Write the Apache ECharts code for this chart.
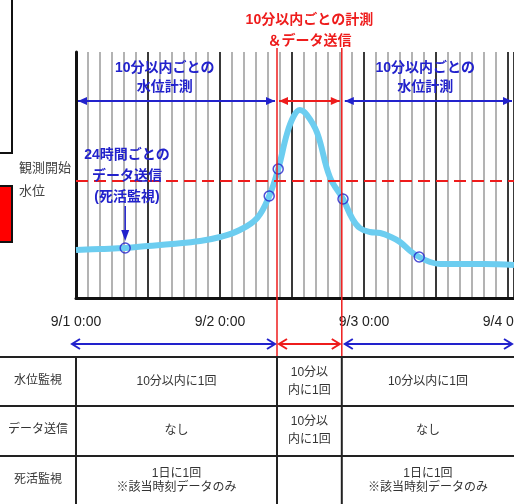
<!DOCTYPE html>
<html><head><meta charset="utf-8">
<script src="https://cdn.jsdelivr.net/npm/echarts@6/dist/echarts.min.js"></script>
<style>html,body{margin:0;padding:0;background:#fff}#c{width:514px;height:504px}</style>
</head><body><div id="c"></div>
<script>
// ---- data (hours since 9/1 0:00, relative water level) ----
const hours  = [0, 4, 8.2, 12, 16, 20.7, 24, 27.3, 30.2, 32.2, 33.7, 35.2, 36.3, 37.3, 38.5, 40.2, 42.3, 44.5, 46, 47.3, 49, 50.7, 52.5, 54, 55.7, 57.2, 59, 60.7, 64, 68, 73];
const levels = [48, 49, 50, 52, 54, 57, 61, 68, 80, 102, 129, 165, 182, 188, 183, 165, 121, 99, 80, 70, 66, 65, 61, 56, 47, 41, 36, 34, 34, 34, 33];
const sampleHours  = [8.2, 32.2, 33.7, 44.5, 57.2];
const sampleLevels = [50, 102, 129, 99, 41];
const startLevel = 117;                 // 観測開始水位
const phaseBounds = [0, 33.5, 44.3, 73]; // phase boundaries (hours)
const dayTicks  = [0, 24, 48, 72];
const dayLabels = ['9/1 0:00', '9/2 0:00', '9/3 0:00', '9/4 0:00'];
const phaseTitles = ['10分以内ごとの\n水位計測', '10分以内ごとの計測\n＆データ送信', '10分以内ごとの\n水位計測'];
const phaseTitleHours = [14.8, null, 58.2];
const heartbeatNote = '24時間ごとの\nデータ送信\n(死活監視)';
const axisNote = '観測開始\n水位';
const rowLabels = ['水位監視', 'データ送信', '死活監視'];
const cellTexts = [
  ['10分以内に1回', '10分以\n内に1回', '10分以内に1回'],
  ['なし', '10分以\n内に1回', 'なし'],
  ['1日に1回\n※該当時刻データのみ', '', '1日に1回\n※該当時刻データのみ']
];

const FONT = "'Liberation Sans','Noto Sans CJK JP',sans-serif";
const BLUE = '#2222cc', RED = '#ee1c1c', CURVE = '#6ccdf0';

const chart = echarts.init(document.getElementById('c'), null, {renderer: 'canvas'});
chart.setOption({
  animation: false,
  grid: {left: 76, top: 52, right: 0, bottom: 206, containLabel: false, outerBoundsMode: 'none'},
  xAxis: [
    {type: 'value', min: 0, max: 73, interval: 2, position: 'bottom',
     axisLine: {show: true, onZero: false, lineStyle: {color: '#111', width: 3}},
     axisTick: {show: false},
     splitLine: {show: true, lineStyle: {color: '#9a9a9a', width: 1.5}},
     axisLabel: {margin: 17, fontSize: 14, color: '#222', fontFamily: FONT, hideOverlap: false,
       formatter: v => { const i = dayTicks.indexOf(v); return i >= 0 ? dayLabels[i] : ''; }}},
    {type: 'value', min: 0, max: 73, interval: 12, position: 'top',
     axisLine: {show: false}, axisTick: {show: false}, axisLabel: {show: false},
     splitLine: {show: true, lineStyle: {color: '#111', width: 1.5}}}
  ],
  yAxis: {type: 'value', min: 0, max: 246,
    axisLine: {show: true, onZero: false, lineStyle: {color: '#111', width: 3}},
    axisTick: {show: false}, axisLabel: {show: false}, splitLine: {show: false}},
  series: [
    {type: 'line', data: hours.map((h, i) => [h, levels[i]]), smooth: 0.4, symbol: 'none',
     lineStyle: {color: CURVE, width: 6}, z: 3,
     markLine: {silent: true, symbol: 'none', label: {show: false},
       data: [{yAxis: startLevel, lineStyle: {color: RED, width: 2, type: [12, 6]}}]}},
    {type: 'scatter', data: sampleHours.map((h, i) => [h, sampleLevels[i]]), symbol: 'circle', symbolSize: 10,
     itemStyle: {color: 'rgba(255,255,255,0)', borderColor: BLUE, borderWidth: 1.5}, z: 5}
  ]
});

const px = h => chart.convertToPixel({xAxisIndex: 0}, h);
const py = v => chart.convertToPixel({yAxisIndex: 0}, v);
const g = [];
function hArrow(x0, x1, y, color, filled) {
  g.push({type: 'line', shape: {x1: x0, y1: y, x2: x1, y2: y}, style: {stroke: color, lineWidth: 2}, z: 20});
  if (filled) {
    g.push({type: 'polygon', shape: {points: [[x0, y], [x0 + 9, y - 4], [x0 + 9, y + 4]]}, style: {fill: color}, z: 20});
    g.push({type: 'polygon', shape: {points: [[x1, y], [x1 - 9, y - 4], [x1 - 9, y + 4]]}, style: {fill: color}, z: 20});
  } else {
    g.push({type: 'polyline', shape: {points: [[x0 + 8, y - 5], [x0, y], [x0 + 8, y + 5]]}, style: {stroke: color, lineWidth: 2, fill: null}, z: 20});
    g.push({type: 'polyline', shape: {points: [[x1 - 8, y - 5], [x1, y], [x1 - 8, y + 5]]}, style: {stroke: color, lineWidth: 2, fill: null}, z: 20});
  }
}
function txt(text, x, y, opt) {
  g.push({type: 'text', z: 30, style: Object.assign({text: text, x: x, y: y, align: 'center', verticalAlign: 'middle',
    fontSize: 14, fontFamily: FONT, fontWeight: 'normal', fill: '#333'}, opt)});
}
const b = phaseBounds.map(px);
const W = 514;
// left-edge fragments
g.push({type: 'rect', shape: {x: -2, y: -2, width: 14, height: 155}, style: {fill: '#fff', stroke: '#111', lineWidth: 2}, z: 10});
g.push({type: 'rect', shape: {x: -2, y: 186, width: 14, height: 56}, style: {fill: '#ff0000', stroke: '#111', lineWidth: 2}, z: 10});
// red phase lines
[b[1], b[2]].forEach(x => g.push({type: 'line', shape: {x1: x, y1: 48, x2: x, y2: 356}, style: {stroke: RED, lineWidth: 1.5}, z: 15}));
// top arrows
const ya = py(197);
hArrow(b[0] + 2, b[1] - 2, ya, BLUE, true);
hArrow(b[1] + 2, b[2] - 2, ya, RED, true);
hArrow(b[2] + 3, W - 2, ya, BLUE, true);
// bottom arrows
hArrow(b[0] - 4, b[1] - 2, 344, BLUE, false);
hArrow(b[1] + 2, b[2] - 2, 344, RED, false);
hArrow(b[2] + 3, W - 2, 344, BLUE, false);
// titles
txt(phaseTitles[0], px(phaseTitleHours[0]), 77.5, {fill: BLUE, lineHeight: 19, fontWeight: 'bold'});
txt(phaseTitles[2], px(phaseTitleHours[2]), 77.5, {fill: BLUE, lineHeight: 19, fontWeight: 'bold'});
txt(phaseTitles[1], (b[1] + b[2]) / 2, 30.5, {fill: RED, lineHeight: 21, fontWeight: 'bold'});
txt(heartbeatNote, px(8.5), 176, {fill: BLUE, lineHeight: 21, fontWeight: 'bold'});
txt(axisNote, 19, 180, {fill: '#444', lineHeight: 23, align: 'left', fontSize: 13});
// heartbeat arrow (down to first sample)
const xh = px(sampleHours[0]);
g.push({type: 'line', shape: {x1: xh, y1: 206, x2: xh, y2: 232}, style: {stroke: BLUE, lineWidth: 1.5}, z: 20});
g.push({type: 'polygon', shape: {points: [[xh, 241], [xh - 4, 230], [xh + 4, 230]]}, style: {fill: BLUE}, z: 20});
// table
const rowY = [357, 406, 456, 506];
[357, 406, 456].forEach(y => g.push({type: 'line', shape: {x1: 0, y1: y, x2: W, y2: y}, style: {stroke: '#222', lineWidth: 2}, z: 12}));
[b[0], b[1], b[2]].forEach(x => g.push({type: 'line', shape: {x1: x, y1: 357, x2: x, y2: 504}, style: {stroke: '#222', lineWidth: 2}, z: 12}));
const colX = [0, b[0], b[1], b[2], W];
rowLabels.forEach((lab, r) => {
  const cy = (rowY[r] + rowY[r + 1]) / 2 - 1;
  txt(lab, (colX[0] + colX[1]) / 2, cy, {fontSize: 12});
  cellTexts[r].forEach((t, c) => {
    if (!t) return;
    const lh = r === 2 ? 14 : 18;
    txt(t, (colX[c + 1] + colX[c + 2]) / 2, cy + 1, {fontSize: 12, lineHeight: lh});
  });
});
chart.setOption({graphic: g});
</script></body></html>
